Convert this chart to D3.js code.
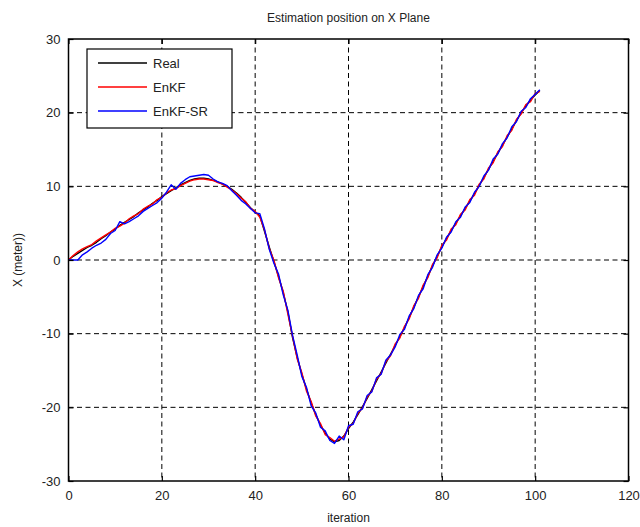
<!DOCTYPE html>
<html>
<head>
<meta charset="utf-8">
<script src="https://cdn.jsdelivr.net/npm/d3@7"></script>
<style>
  body { margin: 0; background: #fff; }
  svg text { font-family: "Liberation Sans", Arial, sans-serif; fill: #222; }
</style>
</head>
<body>
<div id="chart"></div>
<script>
// iterations 0..101
const iteration = d3.range(0, 102);

const xTicks = [0, 20, 40, 60, 80, 100, 120];
const yTicks = [-30, -20, -10, 0, 10, 20, 30];

const real = [
  0, 0.5, 0.9, 1.3, 1.7, 2.0, 2.4, 2.9, 3.3, 3.8,
  4.2, 4.7, 5.1, 5.5, 5.9, 6.4, 6.8, 7.2, 7.7, 8.1,
  8.6, 9.0, 9.4, 9.8, 10.2, 10.5, 10.8, 11.0, 11.1, 11.1,
  11.0, 10.8, 10.6, 10.3, 10.0, 9.6, 9.1, 8.5, 7.8, 7.1,
  6.5, 6.0, 3.9, 1.8, -0.2, -2.2, -4.4, -7.0, -10.5, -13.2,
  -15.5, -17.5, -19.4, -21.0, -22.4, -23.5, -24.3, -24.7, -24.5, -23.9,
  -22.9, -22.0, -21.0, -19.9, -18.8, -17.6, -16.4, -15.2, -14.0, -12.8,
  -11.6, -10.4, -9.2, -7.8, -6.4, -5.0, -3.6, -2.2, -0.8, 0.5,
  1.8, 2.9, 4.0, 5.0, 6.0, 7.0, 8.0, 9.0, 10.1, 11.2,
  12.3, 13.4, 14.5, 15.6, 16.7, 17.8, 18.9, 20.0, 20.9, 21.7,
  22.4, 23.0
];

const enkf = [
  0, 0.6, 1.1, 1.5, 1.8, 2.1, 2.6, 3.0, 3.4, 3.8,
  4.3, 4.6, 5.0, 5.6, 6.0, 6.3, 6.9, 7.3, 7.6, 8.2,
  8.5, 9.1, 9.5, 9.7, 10.1, 10.4, 10.7, 10.9, 11.0, 11.0,
  10.9, 10.8, 10.5, 10.3, 9.9, 9.5, 9.0, 8.4, 7.9, 7.0,
  6.6, 5.8, 4.1, 1.6, 0.0, -2.4, -4.2, -7.3, -10.3, -13.4,
  -15.3, -17.8, -19.2, -21.2, -22.2, -23.7, -24.1, -24.6, -24.3, -24.0,
  -22.7, -22.2, -20.8, -20.1, -18.6, -17.8, -16.2, -15.4, -13.8, -13.0,
  -11.4, -10.6, -9.0, -8.0, -6.2, -5.2, -3.4, -2.4, -0.6, 0.3,
  2.0, 2.7, 4.2, 4.8, 6.2, 6.8, 8.2, 8.8, 10.3, 11.0,
  12.5, 13.2, 14.7, 15.4, 16.9, 17.6, 19.1, 19.8, 21.1, 21.5,
  22.6, 22.9
];

const enkfSr = [
  0, 0, 0, 0.7, 1.1, 1.6, 2.0, 2.3, 2.8, 3.6,
  4.0, 5.2, 4.9, 5.2, 5.6, 6.0, 6.6, 7.0, 7.4, 7.8,
  8.4, 9.2, 10.2, 9.6, 10.4, 10.9, 11.3, 11.4, 11.5, 11.6,
  11.5, 11.0, 10.6, 10.4, 10.1, 9.4, 8.8, 8.1, 7.6, 7.0,
  6.4, 6.3, 4.2, 1.5, -0.4, -1.9, -4.7, -6.8, -10.2, -12.9,
  -15.8, -17.3, -19.8, -20.8, -22.7, -23.2, -24.5, -24.9, -23.9, -24.4,
  -22.5, -22.3, -20.6, -20.2, -18.4, -17.9, -16.0, -15.5, -13.6, -12.9,
  -11.8, -10.1, -9.4, -7.6, -6.6, -4.8, -3.9, -2.0, -1.0, 0.7,
  1.6, 3.1, 3.8, 5.2, 5.8, 7.2, 7.8, 9.2, 10.0, 11.4,
  12.2, 13.7, 14.4, 15.8, 16.6, 18.1, 18.8, 20.2, 20.7, 21.9,
  22.5, 23.1
];

const series = [
  { name: "Real", color: "#000000", values: real },
  { name: "EnKF", color: "#ff0000", values: enkf },
  { name: "EnKF-SR", color: "#0000ff", values: enkfSr }
];

// dimensions
const W = 640, H = 527;
const margin = { top: 39, right: 11.5, bottom: 46, left: 68.5 };
const width = W - margin.left - margin.right;
const height = H - margin.top - margin.bottom;

const svg = d3.select("#chart").append("svg")
  .attr("width", W)
  .attr("height", H);

const g = svg.append("g")
  .attr("transform", `translate(${margin.left},${margin.top})`);

const x = d3.scaleLinear().domain([0, 120]).range([0, width]);
const y = d3.scaleLinear().domain([-30, 30]).range([height, 0]);

// dashed grid
g.append("g")
  .selectAll("line")
  .data(xTicks.slice(1, -1))
  .join("line")
  .attr("x1", d => x(d)).attr("x2", d => x(d))
  .attr("y1", 0).attr("y2", height)
  .attr("stroke", "#000").attr("stroke-width", 1)
  .attr("stroke-dasharray", "5,3.5");

g.append("g")
  .selectAll("line")
  .data(yTicks.slice(1, -1))
  .join("line")
  .attr("y1", d => y(d)).attr("y2", d => y(d))
  .attr("x1", 0).attr("x2", width)
  .attr("stroke", "#000").attr("stroke-width", 1)
  .attr("stroke-dasharray", "5,3.5");

// data lines (Real underneath)
const line = d3.line()
  .x((d, i) => x(iteration[i]))
  .y(d => y(d));

g.append("g")
  .selectAll("path")
  .data(series)
  .join("path")
  .attr("d", d => line(d.values))
  .attr("fill", "none")
  .attr("stroke", d => d.color)
  .attr("stroke-width", 1.4)
  .attr("stroke-linejoin", "round");

// axes, MATLAB style: ticks inward on all four sides, plain hyphen minus
const tickLen = 5;
const fmt = d => String(d);
const axisBottom = g.append("g")
  .attr("transform", `translate(0,${height})`)
  .call(d3.axisBottom(x).tickValues(xTicks).tickSizeInner(-tickLen).tickSizeOuter(0).tickPadding(10).tickFormat(fmt));
const axisTop = g.append("g")
  .call(d3.axisTop(x).tickValues(xTicks).tickSizeInner(-tickLen).tickSizeOuter(0).tickFormat(""));
const axisLeft = g.append("g")
  .call(d3.axisLeft(y).tickValues(yTicks).tickSizeInner(-tickLen).tickSizeOuter(0).tickPadding(8).tickFormat(fmt));
const axisRight = g.append("g")
  .attr("transform", `translate(${width},0)`)
  .call(d3.axisRight(y).tickValues(yTicks).tickSizeInner(-tickLen).tickSizeOuter(0).tickFormat(""));

[axisBottom, axisTop, axisLeft, axisRight].forEach(a => {
  a.select(".domain").remove();
  a.selectAll(".tick line").attr("stroke", "#000").attr("stroke-width", 1.2);
  a.selectAll("text").attr("font-size", 13).attr("fill", "#222");
});

// frame
g.append("rect")
  .attr("x", 0).attr("y", 0)
  .attr("width", width).attr("height", height)
  .attr("fill", "none")
  .attr("stroke", "#000")
  .attr("stroke-width", 1.5);

// title and axis labels
svg.append("text")
  .attr("x", margin.left + width / 2)
  .attr("y", 22)
  .attr("text-anchor", "middle")
  .attr("font-size", 12)
  .text("Estimation position on X Plane");

svg.append("text")
  .attr("x", margin.left + width / 2)
  .attr("y", 522)
  .attr("text-anchor", "middle")
  .attr("font-size", 12)
  .text("iteration");

svg.append("text")
  .attr("transform", `translate(22,${margin.top + height / 2}) rotate(-90)`)
  .attr("text-anchor", "middle")
  .attr("font-size", 12)
  .text("X (meter))");

// legend
const legend = svg.append("g").attr("transform", "translate(87,49)");
legend.append("rect")
  .attr("width", 145).attr("height", 79)
  .attr("fill", "#fff")
  .attr("stroke", "#000")
  .attr("stroke-width", 1.2);

const item = legend.selectAll("g.item")
  .data(series)
  .join("g")
  .attr("class", "item")
  .attr("transform", (d, i) => `translate(0,${14 + i * 24})`);

item.append("line")
  .attr("x1", 11).attr("x2", 60)
  .attr("stroke", d => d.color)
  .attr("stroke-width", 1.4);

item.append("text")
  .attr("x", 66)
  .attr("dy", "0.35em")
  .attr("font-size", 13)
  .text(d => d.name);
</script>
</body>
</html>
